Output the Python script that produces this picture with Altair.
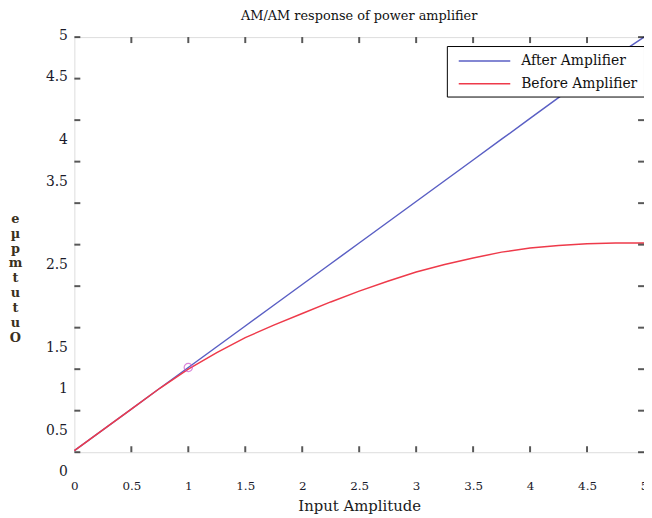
import altair as alt
import pandas as pd

# ---- data ----
x_vals = [0, 0.25, 0.5, 0.75, 1.0, 1.25, 1.5, 1.75, 2.0, 2.25, 2.5, 2.75,
          3.0, 3.25, 3.5, 3.75, 4.0, 4.25, 4.5, 4.75, 5.0]
after_vals = [0.02, 0.27, 0.52, 0.77, 1.02, 1.27, 1.52, 1.77, 2.02, 2.27, 2.52,
              2.77, 3.02, 3.27, 3.52, 3.77, 4.02, 4.27, 4.52, 4.77, 5.0]
before_vals = [0.02, 0.27, 0.52, 0.77, 1.0, 1.2, 1.38, 1.53, 1.67, 1.81, 1.94,
               2.06, 2.17, 2.26, 2.34, 2.41, 2.46, 2.49, 2.51, 2.52, 2.52]
series_names = ["After Amplifier", "Before Amplifier"]
series_colors = ["#5a5fc4", "#ee3a4a"]
marker_x = [1.0]
marker_y = [1.02]
tick_vals = [0, 0.5, 1, 1.5, 2, 2.5, 3, 3.5, 4, 4.5, 5]
y_title_lines = ["e", "µ", "p", "m", "t", "u", "t", "u", "O"]

FONT = "DejaVu Serif"
x_dom = [0, 5]
y_dom = [0, 5]

rows = []
for x, a, b in zip(x_vals, after_vals, before_vals):
    rows.append({"x": x, "y": a, "series": series_names[0]})
    rows.append({"x": x, "y": b, "series": series_names[1]})
df = pd.DataFrame(rows)

xs = alt.Scale(domain=x_dom, nice=False, zero=False)
ys = alt.Scale(domain=y_dom, nice=False, zero=False)

lines = alt.Chart(df).mark_line(strokeWidth=1.5).encode(
    x=alt.X("x:Q", scale=xs, axis=alt.Axis(
        values=tick_vals, format="~g", ticks=False, domain=False, grid=False,
        labelFont=FONT, labelFontSize=12, labelColor="#1a1a2a", labelPadding=29,
        labelFlush=False,
        title="Input Amplitude", titleFont=FONT, titleFontSize=15,
        titleFontWeight="normal", titleColor="#1a1a1a", titlePadding=7)),
    y=alt.Y("y:Q", scale=ys, axis=alt.Axis(
        values=tick_vals, format="~g", ticks=False, domain=False, grid=False,
        labelFont=FONT, labelFontSize=14, labelColor="#1a1a2a", labelPadding=7,
        labelFlush=False,
        labelExpr="datum.value == 2 || datum.value == 3 ? '' : datum.label",
        labelOffset={"condition": {"test": "datum.value >= 4.5", "value": -2}, "value": 20},
        title=y_title_lines, titleAngle=0, titleX=-60, titleY=177,
        titleAlign="center", titleBaseline="top", titleLineHeight=15,
        titleFont=FONT, titleFontSize=13, titleFontWeight="bold",
        titleColor="#3a3020")),
    color=alt.Color("series:N",
                    scale=alt.Scale(domain=series_names, range=series_colors),
                    sort=series_names,
                    legend=alt.Legend(
                        title=None, orient="none", legendX=376, legendY=9,
                        strokeColor="black", fillColor="white", padding=6,
                        symbolType="M-1,0H5.5", symbolSize=256, symbolStrokeWidth=1.5,
                        symbolOffset=5,
                        labelFont=FONT, labelFontSize=14, labelColor="#111",
                        labelOffset=46, rowPadding=7)),
    order=alt.Order("series:N"),
)

marker = alt.Chart(pd.DataFrame({"x": marker_x, "y": marker_y})).mark_point(
    shape="circle", size=70, filled=False, color="#cc55cc", strokeWidth=1.2
).encode(x=alt.X("x:Q", scale=xs), y=alt.Y("y:Q", scale=ys))

tdf = pd.DataFrame({"v": tick_vals, "lo": x_dom[0], "hi": x_dom[1]})
inner = tick_vals[1:-1]
tdf_in = pd.DataFrame({"v": inner, "lo": y_dom[0], "hi": y_dom[1]})

tick_style = dict(color="#111", thickness=2, size=6)
left_ticks = alt.Chart(tdf).mark_tick(orient="horizontal", xOffset=3, **tick_style).encode(
    x=alt.X("lo:Q", scale=xs), y=alt.Y("v:Q", scale=ys))
right_ticks = alt.Chart(tdf).mark_tick(orient="horizontal", xOffset=-3, **tick_style).encode(
    x=alt.X("hi:Q", scale=xs), y=alt.Y("v:Q", scale=ys))
bottom_ticks = alt.Chart(tdf_in).mark_tick(orient="vertical", yOffset=-3, **tick_style).encode(
    x=alt.X("v:Q", scale=xs), y=alt.Y("lo:Q", scale=ys))
top_ticks = alt.Chart(tdf_in).mark_tick(orient="vertical", yOffset=3, **tick_style).encode(
    x=alt.X("v:Q", scale=xs), y=alt.Y("hi:Q", scale=ys))

chart = alt.layer(lines, marker, left_ticks, right_ticks, bottom_ticks, top_ticks).properties(
    width=575, height=419,
    title=alt.TitleParams("AM/AM response of power amplifier", font=FONT, fontSize=13,
                          fontWeight="normal", color="#111", anchor="middle", offset=5),
    autosize=alt.AutoSizeParams(type="none"),
    padding={"left": 67, "top": 27, "right": 0, "bottom": 60},
).configure_view(stroke="#222", strokeWidth=1.5).configure(background="white")

chart.save("out.html", embed_options={"renderer": "svg", "actions": False})
